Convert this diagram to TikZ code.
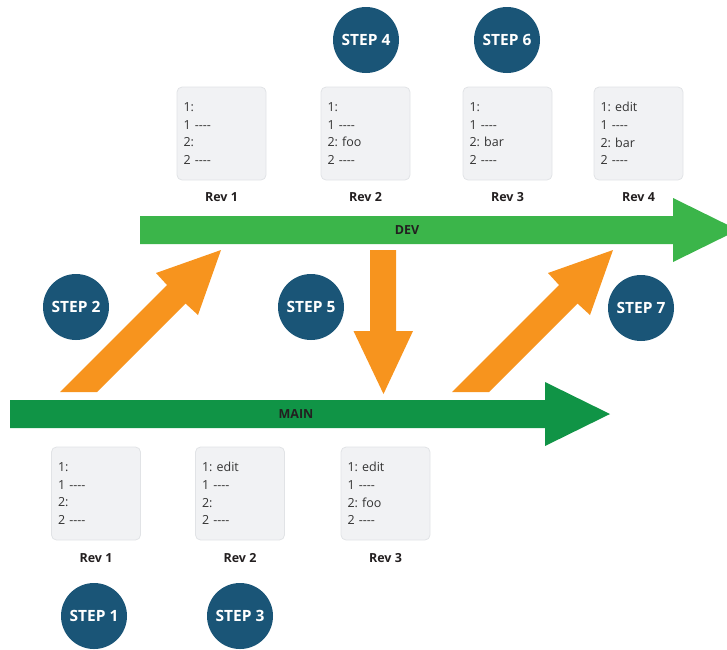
\documentclass[tikz,border=0pt]{standalone}
\usepackage{fontspec}
\setmainfont{Open Sans}
\frenchspacing
\definecolor{devgreen}{HTML}{3BB54A}
\definecolor{maingreen}{HTML}{109446}
\definecolor{mergeorange}{HTML}{F7941E}
\definecolor{stepblue}{HTML}{1A5577}
\definecolor{docfill}{HTML}{F1F2F4}
\definecolor{docline}{HTML}{E1E3E6}
\definecolor{doctext}{HTML}{333333}
\definecolor{labeltext}{HTML}{231F20}
\tikzset{
  docbox/.style={draw=docline, fill=docfill, rounded corners=5pt, line width=0.8pt,
    minimum width=89pt, minimum height=93pt, text width=76pt, inner xsep=6.5pt,
    align=left, text=doctext, font=\fontsize{12.5}{17.7}\selectfont},
  revlabel/.style={text=labeltext, font=\bfseries\fontsize{12.5}{15}\selectfont},
  branchlabel/.style={text=labeltext, font=\bfseries\fontsize{12.5}{15}\selectfont},
  stepdot/.style={circle, fill=stepblue, minimum size=66pt, inner sep=0pt,
    text=white, font=\bfseries\fontsize{15.5}{18}\selectfont},
  merge/.style={fill=mergeorange, draw=none},
}
\newcommand{\dashes}{-{}-{}-{}-}
\begin{document}
\begin{tikzpicture}[x=1pt,y=-1pt]
\useasboundingbox (0,0) rectangle (727,649);
\clip (0,0) rectangle (727,649);

% branch arrows
\fill[devgreen] (140,216) -- (673,216) -- (673,198) -- (738,230) -- (673,262) -- (673,244) -- (140,244) -- cycle;
\fill[maingreen] (10,400) -- (545,400) -- (545,382) -- (610,414) -- (545,446) -- (545,428) -- (10,428) -- cycle;
\node[branchlabel] (devlbl) at (407,230) {DEV};
\node[branchlabel] (mainlbl) at (296,414) {MAIN};

% merge arrows
\fill[merge] (60,392) -- (167,285) -- (156,273) -- (221,250) -- (198,315) -- (185.5,303.5) -- (97,392) -- cycle;
\fill[merge] (370,250) -- (396,250) -- (396,331) -- (413,331) -- (383.5,394) -- (353.5,331) -- (370,331) -- cycle;
\begin{scope}[xshift=392pt]
\fill[merge] (60,392) -- (167,285) -- (156,273) -- (221,250) -- (198,315) -- (185.5,303.5) -- (97,392) -- cycle;
\end{scope}

% dev revisions
\node[docbox] (d1) at (221.5,133.5) {1:\\1 \dashes\\2:\\2 \dashes};
\node[docbox] (d2) at (365.5,133.5) {1:\\1 \dashes\\2: foo\\2 \dashes};
\node[docbox] (d3) at (507.5,133.5) {1:\\1 \dashes\\2: bar\\2 \dashes};
\node[docbox] (d4) at (638.5,133.5) {1: edit\\1 \dashes\\2: bar\\2 \dashes};
\node[revlabel] (d1l) at (221.5,197) {Rev 1};
\node[revlabel] (d2l) at (365.5,197) {Rev 2};
\node[revlabel] (d3l) at (507.5,197) {Rev 3};
\node[revlabel] (d4l) at (638.5,197) {Rev 4};

% main revisions
\node[docbox] (m1) at (96,493.5) {1:\\1 \dashes\\2:\\2 \dashes};
\node[docbox] (m2) at (240,493.5) {1: edit\\1 \dashes\\2:\\2 \dashes};
\node[docbox] (m3) at (385.5,493.5) {1: edit\\1 \dashes\\2: foo\\2 \dashes};
\node[revlabel] (m1l) at (96,558) {Rev 1};
\node[revlabel] (m2l) at (240,558) {Rev 2};
\node[revlabel] (m3l) at (385.5,558) {Rev 3};

% steps
\node[stepdot] (s1) at (94,616) {STEP 1};
\node[stepdot] (s2) at (76,307) {STEP 2};
\node[stepdot] (s3) at (240,616) {STEP 3};
\node[stepdot] (s4) at (366,40) {STEP 4};
\node[stepdot] (s5) at (311,307) {STEP 5};
\node[stepdot] (s6) at (507,40) {STEP 6};
\node[stepdot] (s7) at (641,308) {STEP 7};
\end{tikzpicture}
\end{document}
